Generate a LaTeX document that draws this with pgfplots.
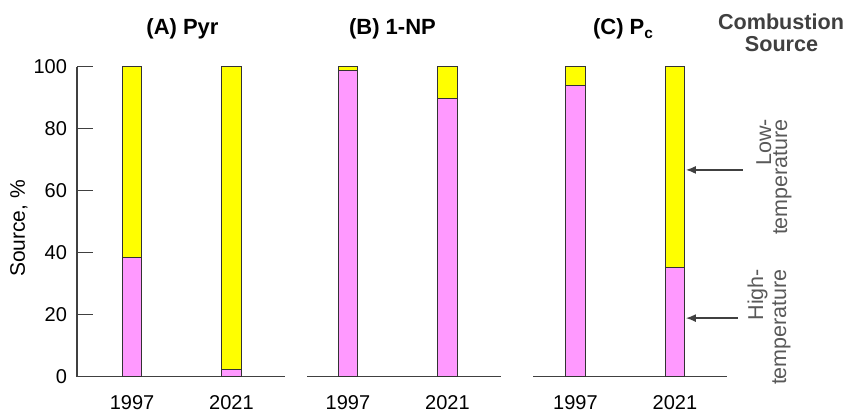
\documentclass[border=0pt]{standalone}
\usepackage{fontspec}
\setmainfont{Liberation Sans}
\usepackage{pgfplots}
\pgfplotsset{compat=1.18}
\usetikzlibrary{arrows.meta}
\definecolor{hiT}{HTML}{FF99FF}
\definecolor{loT}{HTML}{FFFF00}
\definecolor{axgray}{HTML}{404040}
\definecolor{lblgray}{HTML}{595959}
\pgfplotsset{
  panel/.style={
    scale only axis, height=155pt,
    ymin=0, ymax=100, enlargelimits=false,
    ybar stacked, bar width=9.75pt,
    xtick={1,2}, xticklabels={1997,2021},
    xtick style={draw=none},
    xticklabel style={yshift=-5.7pt},
    tick label style={font=\fontsize{10}{12}\selectfont, text=black},
    /pgf/number format/assume math mode=true,
    major tick length=8pt,
    ytick style={draw=axgray, line width=0.75pt},
    every axis plot/.append style={draw=black!80, line width=0.5pt},
    anchor=south west,
    clip=false,
  },
  lines/.style={
    axis line style={-, draw=axgray, line width=0.75pt},
    x axis line style={-}, y axis line style={-},
    tick align=inside,
  }
}
\begin{document}
\begin{tikzpicture}
\path[use as bounding box] (0,0) rectangle (422.5pt,205.5pt);
% Panel A
\begin{axis}[panel, at={(38.5pt,17.15pt)}, width=104pt, xmin=0.447, xmax=2.538,
  axis x line=bottom, axis y line=left, lines, ytick={0,20,...,100},
  yticklabel style={xshift=-1.5pt}]
\addplot[fill=hiT] coordinates {(1,38.5) (2,2.3)};
\addplot[fill=loT] coordinates {(1,61.5) (2,97.7)};
\end{axis}
% Panel B
\begin{axis}[panel, at={(153.5pt,17.15pt)}, width=97pt, xmin=0.588, xmax=2.538,
  axis x line=bottom, axis y line=none, lines, ytick=\empty]
\addplot[fill=hiT] coordinates {(1,98.9) (2,89.6)};
\addplot[fill=loT] coordinates {(1,1.1) (2,10.4)};
\end{axis}
% Panel C
\begin{axis}[panel, at={(266.5pt,17.15pt)}, width=97pt, xmin=0.573, xmax=2.523,
  axis x line=bottom, axis y line=none, lines, ytick=\empty]
\addplot[fill=hiT] coordinates {(1,93.8) (2,35.3)};
\addplot[fill=loT] coordinates {(1,6.2) (2,64.7)};
\draw[-{Latex[length=5pt,width=4pt]}, draw=axgray, line width=0.65pt] (axis cs:2.683,66.7) -- (axis cs:2.11,66.7);
\draw[-{Latex[length=5pt,width=4pt]}, draw=axgray, line width=0.65pt] (axis cs:2.633,18.9) -- (axis cs:2.11,18.9);
\end{axis}
% y label
\node[rotate=90, anchor=base, font=\fontsize{10.5}{12}\selectfont] at (12.5pt,91.25pt) {Source, \%};
% titles
\node[anchor=base, font=\fontsize{11}{13}\selectfont\bfseries] at (91.25pt,188pt) {(A) Pyr};
\node[anchor=base, font=\fontsize{11}{13}\selectfont\bfseries] at (196.25pt,188pt) {(B) 1-NP};
\node[anchor=base, font=\fontsize{11}{13}\selectfont\bfseries] at (311.75pt,188pt) {(C) P\textsubscript{c}};
\node[anchor=base, font=\fontsize{10.8}{13}\selectfont\bfseries, text=axgray] at (390.5pt,190.5pt) {Combustion};
\node[anchor=base, font=\fontsize{10.8}{13}\selectfont\bfseries, text=axgray] at (390.75pt,179.75pt) {Source};
% rotated source labels
\node[rotate=90, anchor=base east, text=lblgray, font=\fontsize{10.75}{12}\selectfont] at (385.5pt,149.5pt) {Low-};
\node[rotate=90, anchor=base east, text=lblgray, font=\fontsize{10.75}{12}\selectfont] at (393.5pt,149.5pt) {temperature};
\node[rotate=90, anchor=base east, text=lblgray, font=\fontsize{10.75}{12}\selectfont] at (381.5pt,74.5pt) {High-};
\node[rotate=90, anchor=base east, text=lblgray, font=\fontsize{10.75}{12}\selectfont] at (393pt,74.5pt) {temperature};
\end{tikzpicture}
\end{document}
